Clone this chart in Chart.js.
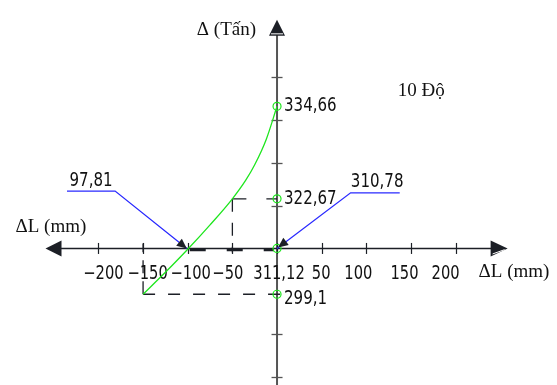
<!DOCTYPE html>
<html><head><meta charset="utf-8">
<script src="https://cdn.jsdelivr.net/npm/chart.js@4/dist/chart.umd.min.js"></script>
<style>html,body{margin:0;padding:0;background:#fff;overflow:hidden}#wrap{width:557px;height:385px}</style>
</head><body><div id="wrap"><canvas id="c" width="557" height="385"></canvas></div>
<script>
// ---- data (ΔL in mm, load axis in schematic grid units) ----
const curveDL = [-150, -125, -100, -75, -50, -35, -25, -12, 0];
const curveU  = [-1.07, -0.5575, -0.02, 0.55, 1.16, 1.595, 1.955, 2.553, 3.32];
const xTicks = [-200, -150, -100, -50, 0, 50, 100, 150, 200];
const xTickLabels = ['\u2212200', '\u2212150', '\u2212100', '\u221250', '311,12', '50', '100', '150', '200'];
const yTicks = [-3, -2, 1, 2, 3, 4];
const markedLoads = [334.66, 322.67, 311.12, 299.1];
const markedU = [3.32, 1.16, 0, -1.07];
const calloutLabels = ['97,81', '310,78'];
const calloutLeftDL = [-101, -181.3, -235.2];
const calloutLeftU = [0, 1.34, 1.34];
const calloutRightDL = [0, 82.4, 137.4];
const calloutRightU = [0, 1.30, 1.30];
const axisTitleY = '\u0394 (T\u1ea5n)';
const axisTitleX = '\u0394L (mm)';
const noteText = '10 \u0110\u1ed9';

// ---- layout / style ----
const X_MIN = -304.4, X_MAX = 307.7, Y_MIN = -3.068, Y_MAX = 5.682;
const AX_LEFT = -259.3, AX_RIGHT = 258.2, AX_TOP = 5.34;
const TICK_LABEL_NUDGE = [5, 4.5, 3, -4.5, 2, -0.5, -8, -6.5, -10];

const SANS = '"Liberation Sans Narrow","DejaVu Sans Condensed","Arial Narrow","Liberation Sans",sans-serif';
const SERIF = '"Liberation Serif","DejaVu Serif","Times New Roman",serif';
const GREEN = '#1ee61e', BLUE = '#2a2aff', DARK = '#1c1f26', GRAY = '#555';

function fmt(v){ return String(v).replace('.', ','); }
function condText(ctx, text, x, y, align, sx) {
  ctx.save(); ctx.translate(x, y); ctx.scale(sx, 1); ctx.textAlign = align; ctx.fillText(text, 0, 0); ctx.restore();
}

const drawing = {
  id: 'drawing',
  beforeDatasetsDraw(chart) {
    const ctx = chart.ctx, xs = chart.scales.x, ys = chart.scales.y;
    const X = v => xs.getPixelForValue(v), Y = v => ys.getPixelForValue(v);
    const x0 = X(0), y0 = Y(0);
    ctx.save();
    // y axis
    ctx.strokeStyle = GRAY; ctx.lineWidth = 2;
    ctx.beginPath(); ctx.moveTo(x0, Y(AX_TOP) + 14); ctx.lineTo(x0, chart.height); ctx.stroke();
    ctx.lineWidth = 1.3;
    yTicks.forEach(t => { const y = Math.round(Y(t)) + 0.5; ctx.beginPath(); ctx.moveTo(x0 - 5.5, y); ctx.lineTo(x0 + 5.5, y); ctx.stroke(); });
    // x axis
    ctx.strokeStyle = DARK; ctx.lineWidth = 1.4;
    ctx.beginPath(); ctx.moveTo(X(AX_LEFT) + 14, y0); ctx.lineTo(X(AX_RIGHT) - 14, y0); ctx.stroke();
    ctx.lineWidth = 1.2;
    xTicks.forEach(t => { const x = Math.round(X(t)) + 0.5; ctx.beginPath(); ctx.moveTo(x, y0 - 5.5); ctx.lineTo(x, y0 + 5.5); ctx.stroke(); });
    // dashed construction lines
    ctx.strokeStyle = DARK; ctx.lineWidth = 1.3;
    const dash = (pts, pat) => { ctx.setLineDash(pat); ctx.beginPath(); ctx.moveTo(pts[0][0], pts[0][1]); for (let i = 1; i < pts.length; i++) ctx.lineTo(pts[i][0], pts[i][1]); ctx.stroke(); };
    const uTop = markedU[1], uBot = markedU[3];
    dash([[X(-50), Y(uTop)], [x0, Y(uTop)]], [14, 20]);
    dash([[X(-50), Y(uTop)], [X(-50), y0 + 4]], [13, 11]);
    dash([[X(-150), Y(uBot)], [x0 + 4, Y(uBot)]], [12, 13]);
    dash([[X(-150), Y(uBot)], [X(-150), y0 - 5]], [13, 8]);
    ctx.lineWidth = 2.4;
    dash([[X(-100) + 2, y0 + 1.5], [x0 - 3, y0 + 1.5]], [16, 21]);
    ctx.setLineDash([]);
    // axis arrowheads
    ctx.fillStyle = DARK;
    let xt = X(AX_LEFT);
    ctx.beginPath(); ctx.moveTo(xt, y0); ctx.lineTo(xt + 16, y0 - 8); ctx.lineTo(xt + 16, y0 + 8); ctx.closePath(); ctx.fill();
    xt = X(AX_RIGHT);
    ctx.beginPath(); ctx.moveTo(xt, y0); ctx.lineTo(xt - 17, y0 - 8); ctx.lineTo(xt - 17, y0 + 8); ctx.closePath(); ctx.fill();
    ctx.strokeStyle = '#fff'; ctx.lineWidth = 1;
    ctx.beginPath(); ctx.moveTo(xt - 15, y0 + 5.5); ctx.lineTo(xt - 3, y0 + 1.2); ctx.stroke();
    const yt = Y(AX_TOP);
    ctx.beginPath(); ctx.moveTo(x0, yt); ctx.lineTo(x0 - 8, yt + 16); ctx.lineTo(x0 + 8, yt + 16); ctx.closePath(); ctx.fill();
    ctx.beginPath(); ctx.moveTo(x0 - 6, yt + 14); ctx.lineTo(x0 + 6, yt + 14); ctx.stroke();
    // x tick labels
    ctx.fillStyle = '#111'; ctx.font = '19px ' + SANS; ctx.textBaseline = 'middle';
    xTicks.forEach((t, i) => condText(ctx, xTickLabels[i], X(t) + TICK_LABEL_NUDGE[i], y0 + 26, 'center', 0.86));
    ctx.restore();
  },
  afterDatasetsDraw(chart) {
    const ctx = chart.ctx, xs = chart.scales.x, ys = chart.scales.y;
    const X = v => xs.getPixelForValue(v), Y = v => ys.getPixelForValue(v);
    const x0 = X(0), y0 = Y(0);
    ctx.save();
    // callout arrowheads
    ctx.fillStyle = DARK;
    const head = (tx, ty, fx, fy) => {
      const a = Math.atan2(ty - fy, tx - fx), L = 10, W = 4.5;
      ctx.beginPath(); ctx.moveTo(tx, ty);
      ctx.lineTo(tx - L * Math.cos(a) + W * Math.sin(a), ty - L * Math.sin(a) - W * Math.cos(a));
      ctx.lineTo(tx - L * Math.cos(a) - W * Math.sin(a), ty - L * Math.sin(a) + W * Math.cos(a));
      ctx.closePath(); ctx.fill();
    };
    head(X(calloutLeftDL[0]), Y(calloutLeftU[0]), X(calloutLeftDL[1]), Y(calloutLeftU[1]));
    head(X(calloutRightDL[0]) + 1, Y(calloutRightU[0]) - 1, X(calloutRightDL[1]), Y(calloutRightU[1]));
    // point labels on load axis
    ctx.fillStyle = '#111'; ctx.font = '19px ' + SANS; ctx.textBaseline = 'middle';
    [0, 1, 3].forEach(i => condText(ctx, fmt(markedLoads[i]), x0 + 7, Y(markedU[i]) + (i === 3 ? 5 : 0), 'left', 0.88));
    // callout labels
    ctx.textBaseline = 'alphabetic';
    condText(ctx, calloutLabels[0], (X(calloutLeftDL[1]) + X(calloutLeftDL[2])) / 2, Y(calloutLeftU[1]) - 5, 'center', 0.88);
    condText(ctx, calloutLabels[1], (X(calloutRightDL[1]) + X(calloutRightDL[2])) / 2 + 2, Y(calloutRightU[1]) - 6, 'center', 0.88);
    // titles
    ctx.font = '19px ' + SERIF; ctx.textBaseline = 'middle';
    ctx.textAlign = 'right'; ctx.fillText(axisTitleY, x0 - 21, Y(AX_TOP) + 10);
    ctx.textAlign = 'left';
    ctx.fillText(axisTitleX, X(AX_LEFT) - 30, y0 - 21);
    ctx.fillText(axisTitleX, X(AX_RIGHT) - 29, y0 + 24);
    ctx.fillText(noteText, X(135.2), Y(3.68));
    ctx.restore();
  }
};

new Chart(document.getElementById('c'), {
  type: 'scatter',
  data: {
    datasets: [
      { data: curveDL.map((v, i) => ({ x: v, y: curveU[i] })), showLine: true, borderColor: GREEN, borderWidth: 1.3, pointRadius: 0, tension: 0.4, cubicInterpolationMode: 'monotone', fill: false },
      { data: markedU.map(u => ({ x: 0, y: u })), showLine: false, pointRadius: 4, pointBorderWidth: 1.2, pointBorderColor: GREEN, pointBackgroundColor: 'rgba(0,0,0,0)' },
      { data: calloutLeftDL.map((v, i) => ({ x: v, y: calloutLeftU[i] })), showLine: true, tension: 0, borderColor: BLUE, borderWidth: 1.3, pointRadius: 0 },
      { data: calloutRightDL.map((v, i) => ({ x: v, y: calloutRightU[i] })), showLine: true, tension: 0, borderColor: BLUE, borderWidth: 1.3, pointRadius: 0 }
    ]
  },
  options: {
    responsive: false, animation: false, devicePixelRatio: 1,
    layout: { padding: 0 },
    plugins: { legend: { display: false }, tooltip: { enabled: false } },
    scales: {
      x: { type: 'linear', display: false, min: X_MIN, max: X_MAX },
      y: { type: 'linear', display: false, min: Y_MIN, max: Y_MAX }
    }
  },
  plugins: [drawing]
});
</script></body></html>
